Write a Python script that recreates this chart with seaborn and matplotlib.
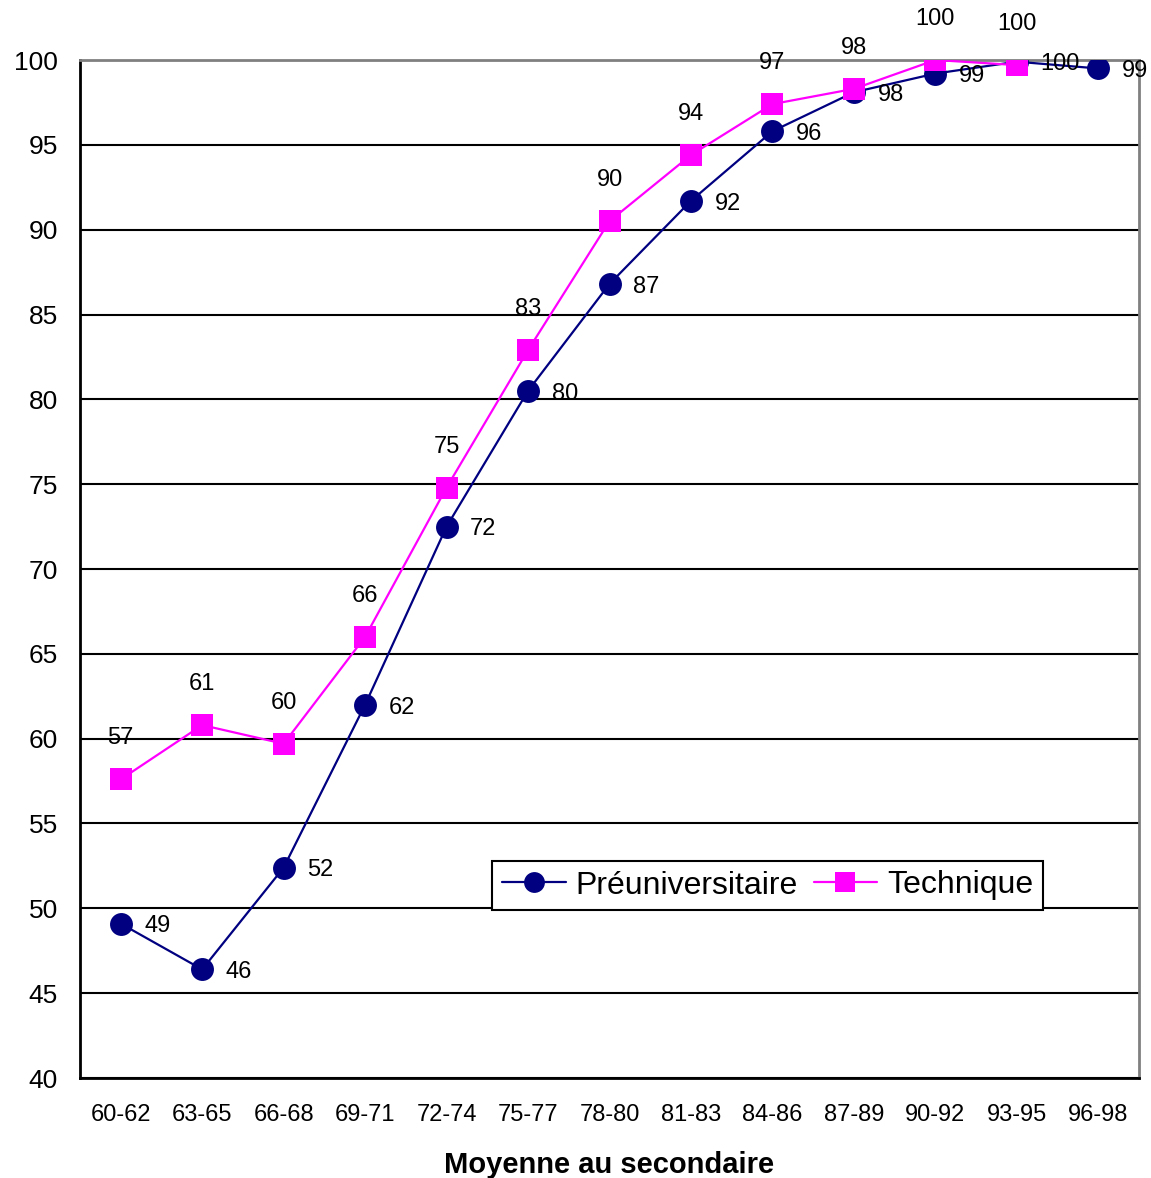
import matplotlib
matplotlib.use("Agg")
import matplotlib.pyplot as plt
import seaborn as sns
import pandas as pd
import numpy as np
from matplotlib.ticker import FixedLocator

categories = ["60-62", "63-65", "66-68", "69-71", "72-74", "75-77", "78-80",
              "81-83", "84-86", "87-89", "90-92", "93-95", "96-98"]
preuni_values = [49.1, 46.4, 52.4, 62.0, 72.5, 80.5, 86.8, 91.7, 95.8, 98.1, 99.2, 99.9, 99.5]
preuni_labels = ["49", "46", "52", "62", "72", "80", "87", "92", "96", "98", "99", "100", "99"]
tech_values = [57.6, 60.8, 59.7, 66.0, 74.8, 82.9, 90.5, 94.4, 97.4, 98.3, 100.0, 99.7]
tech_labels = ["57", "61", "60", "66", "75", "83", "90", "94", "97", "98", "100", "100"]
series_names = ["Préuniversitaire", "Technique"]
y_ticks = [40, 45, 50, 55, 60, 65, 70, 75, 80, 85, 90, 95, 100]
x_title = "Moyenne au secondaire"

df = pd.concat([
    pd.DataFrame({"cat": categories, "val": preuni_values, "serie": series_names[0]}),
    pd.DataFrame({"cat": categories[:len(tech_values)], "val": tech_values, "serie": series_names[1]}),
], ignore_index=True)

sns.set_style("white")
plt.rcParams["font.family"] = ["Liberation Sans", "DejaVu Sans"]
plt.rcParams["text.color"] = "black"
plt.rcParams["axes.labelcolor"] = "black"
plt.rcParams["xtick.color"] = "black"
plt.rcParams["ytick.color"] = "black"

fig = plt.figure(figsize=(11.51, 11.78), dpi=100)
ax = fig.add_axes([80 / 1151, 1 - 1078 / 1178, (1139 - 80) / 1151, (1078 - 60) / 1178])

colors = {series_names[0]: "#000080", series_names[1]: "#FF00FF"}
markers = {series_names[0]: "o", series_names[1]: "s"}

sns.lineplot(data=df, x="cat", y="val", hue="serie", style="serie",
             hue_order=series_names, style_order=series_names,
             palette=colors, markers=markers, dashes=False, sort=False,
             markersize=16.5, markeredgewidth=0, linewidth=1.6, legend=False,
             ax=ax, zorder=3)

ax.set_ylim(40, 100)
ax.set_xlim(-0.5, len(categories) - 0.5)
ax.set_yticks(y_ticks)
ax.set_yticklabels([str(t) for t in y_ticks], fontsize=19)
ax.set_xticks(range(len(categories)))
ax.set_xticklabels(categories, fontsize=17)
ax.xaxis.set_minor_locator(FixedLocator(np.arange(-0.5, len(categories), 1.0)))
ax.tick_params(axis="x", which="major", length=0, pad=19)
ax.tick_params(axis="x", which="minor", length=8, width=1.5, color="black", direction="out")
ax.tick_params(axis="y", which="major", length=10, width=1.5, color="black", direction="out", pad=6)
ax.set_xlabel(x_title, fontsize=21, fontweight="bold", labelpad=18)
ax.set_ylabel("")

ax.yaxis.grid(True, color="black", linewidth=1.5, zorder=0)
ax.set_axisbelow(True)
for side in ["left", "bottom"]:
    ax.spines[side].set_color("black")
    ax.spines[side].set_linewidth(2)
for side in ["top", "right"]:
    ax.spines[side].set_color("#808080")
    ax.spines[side].set_linewidth(2)
    ax.spines[side].set_visible(True)

for i, (v, lab) in enumerate(zip(preuni_values, preuni_labels)):
    ax.annotate(lab, (i, v), xytext=(17, -2), textcoords="offset points",
                ha="left", va="center", fontsize=17, color="black", zorder=5,
                annotation_clip=False)
for i, (v, lab) in enumerate(zip(tech_values, tech_labels)):
    ax.annotate(lab, (i, v), xytext=(0, 29.5), textcoords="offset points",
                ha="center", va="center", fontsize=17, color="black", zorder=5,
                annotation_clip=False)

handles = ax.lines[:2]
leg = ax.legend(handles, series_names, loc="center",
                bbox_to_anchor=((767.5 - 80) / 1059, (1078 - 885.5) / 1018),
                ncol=2, fontsize=23, frameon=True, fancybox=False, framealpha=1,
                edgecolor="black", handlelength=2.0, handletextpad=0.3,
                columnspacing=0.5, borderpad=0.3, borderaxespad=0)
leg.get_frame().set_linewidth(1.5)
for h in leg.legend_handles:
    h.set_markersize(15)

fig.savefig("out.png", dpi=100, facecolor="white")
